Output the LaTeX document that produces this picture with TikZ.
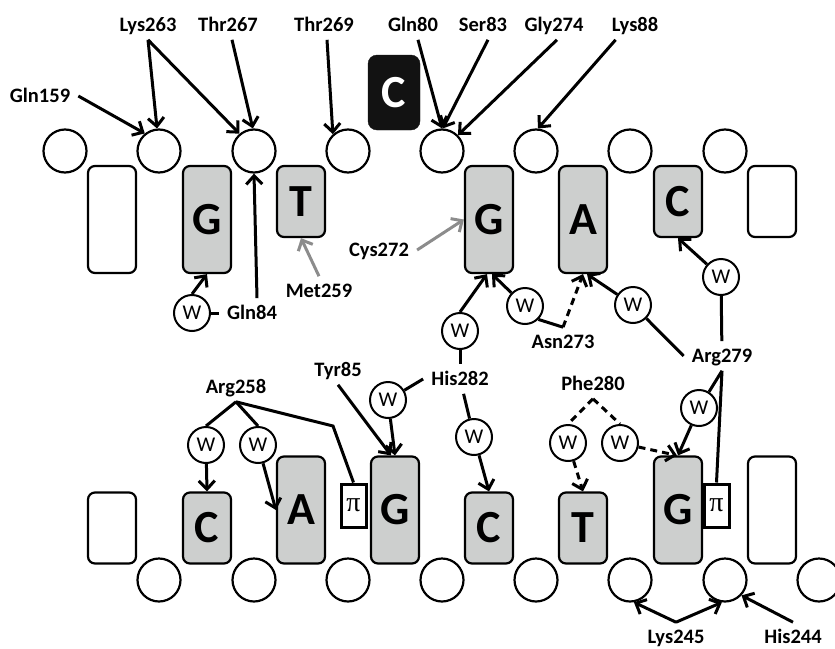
\documentclass[tikz,border=0pt]{standalone}
\usepackage{fontspec}
\setmainfont{Carlito}
\newfontfamily\greekserif{Liberation Serif}
\usetikzlibrary{arrows.meta,calc}
\definecolor{basefill}{RGB}{205,207,206}
\definecolor{tiegray}{RGB}{140,140,140}
\definecolor{capfill}{RGB}{18,18,18}

\begin{document}
\begin{tikzpicture}[x=1pt,y=-1pt,
  lbl/.style={font=\fontsize{20.5}{24}\selectfont\bfseries, inner xsep=8pt, inner ysep=8pt,
              text height=13.2pt, text depth=0pt},
  phos/.style={circle, draw, line width=2.2pt, minimum size=43pt, inner sep=0pt},
  nucbox/.style={rectangle, rounded corners=7pt, draw, line width=2.2pt, minimum width=48pt,
                 font=\fontsize{46}{50}\selectfont\bfseries, inner sep=0pt},
  nuctall/.style={nucbox, minimum height=107pt},
  nucshort/.style={nucbox, minimum height=71pt},
  gbase/.style={fill=basefill},
  capbox/.style={rectangle, rounded corners=9pt, fill=capfill, draw=capfill, minimum width=52pt,
                 minimum height=75pt, text=white, font=\fontsize{46}{50}\selectfont\bfseries, inner sep=0pt},
  wat/.style={circle, draw, line width=2pt, minimum size=36pt, inner sep=0pt, fill=white,
              font=\fontsize{21}{24}\selectfont},
  pibox/.style={rectangle, draw, line width=3pt, minimum width=25pt, minimum height=43pt,
                inner sep=0pt, fill=white, font=\greekserif\fontsize{28}{30}\selectfont},
  bond/.style={line width=3pt},
  arr/.style={bond, -{Straight Barb[length=8.5pt,width=16pt]}},
  hb/.style={dash pattern=on 7pt off 5pt},
  grayarr/.style={arr, draw=tiegray},
]
\useasboundingbox (0,0) rectangle (835,648);

% phosphate backbone, upper and lower strand
\foreach \i/\x in {1/65,2/159,3/254,4/348,5/442,6/536,7/630,8/725}
  \node[phos] (pt\i) at (\x,151) {};
\foreach \i/\x in {2/159,3/254,4/348,5/442,6/536,7/630,8/725,9/819}
  \node[phos] (pb\i) at (\x,580) {};

% upper strand bases
\node[nuctall] (tw1) at (112,219.5) {};
\node[nuctall,gbase] (tG1) at (207,219.5) {G};
\node[nucshort,gbase] (tT) at (301,201.5) {T};
\node[capbox] (capC) at (394,92.5) {C};
\node[nuctall,gbase] (tG2) at (489,219.5) {G};
\node[nuctall,gbase] (tA) at (583,219.5) {A};
\node[nucshort,gbase] (tC) at (678,201.5) {C};
\node[nucshort] (tw2) at (772,201.5) {};

% lower strand bases
\node[nucshort] (bw1) at (112,528) {};
\node[nucshort,gbase] (bC1) at (207,528) {C};
\node[nuctall,gbase] (bA) at (301,510) {A};
\node[nuctall,gbase] (bG1) at (395,510) {G};
\node[pibox] (pi1) at (353.5,505.5) {π};
\node[nucshort,gbase] (bC2) at (489,528) {C};
\node[nucshort,gbase] (bT) at (583,528) {T};
\node[nuctall,gbase] (bG2) at (678,510) {G};
\node[pibox] (pi2) at (716.5,505.5) {π};
\node[nuctall] (bw2) at (772,510) {};

% residue labels
\node[lbl] (gln159) at (40,96) {Gln159};
\node[lbl] (lys263) at (148,25) {Lys263};
\node[lbl] (thr267) at (228,25) {Thr267};
\node[lbl] (thr269) at (324,25) {Thr269};
\node[lbl] (gln80) at (413,25) {Gln80};
\node[lbl] (ser83) at (483,25) {Ser83};
\node[lbl] (gly274) at (554,25) {Gly274};
\node[lbl] (lys88) at (635,25) {Lys88};
\node[lbl] (gln84) at (252,313) {Gln84};
\node[lbl] (met259) at (319,291) {Met259};
\node[lbl] (cys272) at (379,250) {Cys272};
\node[lbl] (asn273) at (563,342) {Asn273};
\node[lbl] (his282) at (460,379) {His282};
\node[lbl] (arg279) at (722,356) {Arg279};
\node[lbl] (phe280) at (593,384) {Phe280};
\node[lbl] (arg258) at (236,387) {Arg258};
\node[lbl] (tyr85) at (338,370) {Tyr85};
\node[lbl] (lys245) at (676,637) {Lys245};
\node[lbl] (his244) at (793,637) {His244};

% bridging waters
\node[wat] (wq) at (192,313) {W};
\node[wat] (wh1) at (460,331) {W};
\node[wat] (wh2) at (388,400) {W};
\node[wat] (wh3) at (474,437) {W};
\node[wat] (wa1) at (525,306) {W};
\node[wat] (wa2) at (633,305) {W};
\node[wat] (wr1) at (721,277) {W};
\node[wat] (wr2) at (699,408) {W};
\node[wat] (wp1) at (568,443) {W};
\node[wat] (wp2) at (620,443) {W};
\node[wat] (wl1) at (206,445) {W};
\node[wat] (wl2) at (258,445) {W};

\coordinate (a258bend) at (333,426);

% contacts to the upper backbone
\draw[arr] (gln159.east) -- (pt2.129);
\draw[arr] (lys263.south) -- (pt2.95);
\draw[arr] (lys263.south) -- (pt3.130);
\draw[arr] ($(thr267.south)+(4,0)$) -- (pt3.93);
\draw[arr] ($(thr269.south)+(3,0)$) -- (pt4.132);
\draw[arr] ($(gln80.south)+(5,0)$) -- (pt5.90);
\draw[arr] ($(ser83.south)+(5,0)$) -- (pt5.88);
\draw[arr] ($(gly274.south)+(3,0)$) -- (pt5.45);
\draw[arr] ($(lys88.south west)+(12,0)$) -- (pt6.85);
\draw[arr] ($(gln84.north)+(5,0)$) -- (pt3.south);

% Gln84 water
\draw[bond] (wq) -- (gln84);
\draw[arr] (wq.north) -- (tG1.south);

% van der Waals contacts
\draw[grayarr] (met259.north) -- (tT.south);
\draw[grayarr] (cys272.east) -- (tG2.west);

% His282
\draw[arr] (wh1.north) -- ($(tG2.south)+(-2,0)$);
\draw[bond] (wh1) -- (his282);
\draw[bond] (his282.west) -- (wh2);
\draw[arr] (wh2) -- (bG1.north);
\draw[bond] (his282) -- (wh3);
\draw[arr] (wh3) -- (bC2.north);

% Asn273
\draw[arr] (wa1) -- ($(tG2.south)+(3,0)$);
\draw[bond] (wa1.-45) -- (asn273.north);
\draw[arr,hb] (asn273.north) -- (tA.south);

% Arg279
\draw[arr] (wa2) -- ($(tA.south)+(4,0)$);
\draw[bond] (wa2) -- (arg279.west);
\draw[bond] (arg279) -- (wr1);
\draw[arr] (wr1) -- (tC.south);
\draw[bond] (arg279.south) -- (wr2);
\draw[bond] (arg279.south) -- (pi2.north);
\draw[arr] (wr2) -- (bG2.north);

% Phe280
\draw[bond,hb] (phe280.south) -- (wp1.north);
\draw[bond,hb] (phe280.south) -- (wp2.north);
\draw[arr,hb] (wp1) -- (bT.north);
\draw[arr,hb] (wp2) -- ($(bG2.north)+(-1,0)$);

% Tyr85
\draw[arr] (tyr85.south) -- ($(bG1.north)+(-4,0)$);

% Arg258
\draw[bond] (arg258.south) -- (wl1.north);
\draw[bond] (arg258.south) -- (wl2.north);
\draw[bond] (arg258.south) -- (a258bend) -- (pi1.north);
\draw[arr] (wl1) -- (bC1.north);
\draw[arr] (wl2) -- (bA.west);

% contacts to the lower backbone
\draw[arr] (lys245.north) -- (pb7.-80);
\draw[arr] (lys245.north) -- (pb8.-98);
\draw[arr] (his244.north) -- (pb8.-43);
\end{tikzpicture}
\end{document}
